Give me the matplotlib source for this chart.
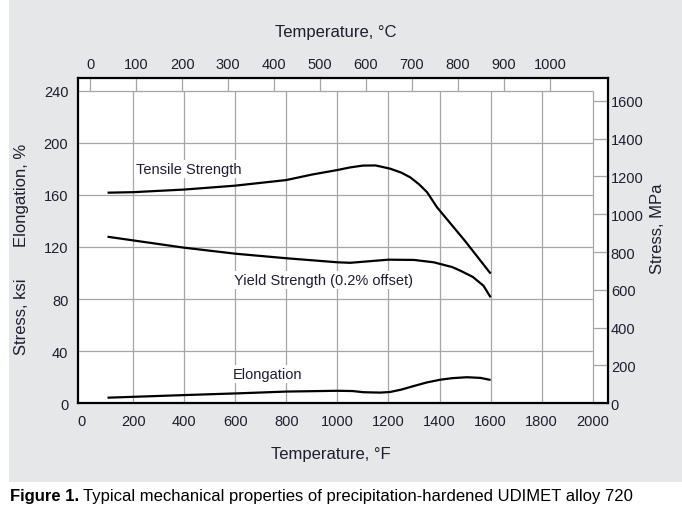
import matplotlib
matplotlib.use("Agg")
import matplotlib.pyplot as plt
from matplotlib.patches import Rectangle
import numpy as np

plt.rcParams['font.family'] = ['Liberation Sans', 'DejaVu Sans']

# ---- data (temperature in °F, stress in ksi, elongation in %) ----
tensile_F = [100, 200, 400, 600, 800, 900, 1000, 1050, 1100, 1150, 1207, 1250, 1285, 1320, 1351, 1390, 1500, 1600]
tensile_ksi = [161.6, 162, 164, 167, 171.3, 175.5, 179, 181, 182.4, 182.5, 180, 177, 173.4, 168, 162, 150.4, 124.5, 99.5]

yield_F = [100, 200, 400, 600, 800, 1000, 1050, 1100, 1200, 1300, 1377, 1450, 1481, 1530, 1572, 1600]
yield_ksi = [127.8, 125, 119.4, 114.8, 111.3, 108.2, 107.8, 108.6, 110.2, 110, 108.2, 104.5, 101.8, 97, 90.2, 81.3]

elong_F = [100, 400, 620, 800, 1000, 1060, 1102, 1168, 1207, 1250, 1300, 1350, 1403, 1450, 1507, 1560, 1600]
elong_pct = [4.3, 6.3, 7.7, 9.0, 9.6, 9.4, 8.5, 8.2, 8.7, 10.5, 13.3, 16, 18.1, 19.3, 20, 19.5, 17.9]

x_ticks_F = list(range(0, 2001, 200))
y_ticks_left = list(range(0, 241, 40))
x_ticks_C = list(range(0, 1001, 100))
y_ticks_MPa = list(range(0, 1601, 200))

TXT = '#1e1e30'
GRID = '#a9a5a3'

W, H = 682, 510
fig = plt.figure(figsize=(W / 100, H / 100), dpi=100)
fig.patch.set_facecolor('white')
fig.patches.append(Rectangle((9 / W, (H - 483) / H), 1 - 9 / W, 483 / H,
                             transform=fig.transFigure, facecolor='#e6e7e8',
                             edgecolor='none', zorder=-10))

L, R, T, B = 78, 608, 79, 404.3
ax = fig.add_axes([L / W, (H - B) / H, (R - L) / W, (B - T) / H])
ax.set_facecolor('white')
px_per_F = 0.2554
x0 = 82
ax.set_xlim((L - x0) / px_per_F, (R - x0) / px_per_F)
ax.set_ylim(0, 249.6)

# grid (bounded like the original)
ax.vlines(x_ticks_F[1:], 0, 240, colors=GRID, linewidth=0.9, zorder=1)
ax.hlines(y_ticks_left[1:], ax.get_xlim()[0], 2000, colors=GRID, linewidth=0.9, zorder=1)

# curves
ax.plot(tensile_F, tensile_ksi, color='black', lw=1.6, zorder=3, solid_capstyle='butt')
ax.plot(yield_F, yield_ksi, color='black', lw=1.6, zorder=3, solid_capstyle='butt')
ax.plot(elong_F, elong_pct, color='black', lw=1.6, zorder=3, solid_capstyle='butt')

bb = dict(facecolor='white', edgecolor='none', pad=1.5)
ax.text(211, 179.8, 'Tensile Strength', fontsize=10.5, color=TXT, va='center', ha='left', bbox=bb, zorder=2)
ax.text(595, 94.6, 'Yield Strength (0.2% offset)', fontsize=10.5, color=TXT, va='center', ha='left', bbox=bb, zorder=2)
ax.text(591, 22.5, 'Elongation', fontsize=10.5, color=TXT, va='center', ha='left', bbox=bb, zorder=2)

for s in ax.spines.values():
    s.set_linewidth(1.6)
    s.set_color('black')

ax.set_xticks(x_ticks_F)
ax.set_yticks(y_ticks_left)
ax.tick_params(axis='x', length=0, pad=8, labelsize=10.5, labelcolor=TXT)
ax.tick_params(axis='y', length=0, pad=7, labelsize=10.5, labelcolor=TXT)

# top axis: Celsius
secx = ax.secondary_xaxis('top', functions=(lambda f: (f - 32) * 5 / 9, lambda c: c * 9 / 5 + 32))
secx.set_xticks(x_ticks_C)
secx.tick_params(direction='in', length=9.4, width=0.9, color=GRID, pad=5, labelsize=10.5, labelcolor=TXT)
secx.spines['top'].set_visible(False)

# right axis: MPa
secy = ax.secondary_yaxis('right', functions=(lambda k: k * 6.895, lambda m: m / 6.895))
secy.set_yticks(y_ticks_MPa)
secy.tick_params(direction='in', length=10.8, width=0.9, color=GRID, pad=2, labelsize=10.5, labelcolor=TXT)
secy.spines['right'].set_visible(False)

# axis titles
fs = 12
fig.text(331 / W, 1 - 455 / H, 'Temperature, °F', ha='center', va='center', fontsize=fs, color=TXT)
fig.text(336 / W, 1 - 33 / H, 'Temperature, °C', ha='center', va='center', fontsize=fs, color=TXT)
fig.text(22 / W, 1 - 195 / H, 'Elongation, %', ha='center', va='center', rotation=90, fontsize=fs, color=TXT)
fig.text(22 / W, 1 - 317 / H, 'Stress, ksi', ha='center', va='center', rotation=90, fontsize=fs, color=TXT)
fig.text(657 / W, 1 - 229 / H, 'Stress, MPa', ha='center', va='center', rotation=90, fontsize=fs, color=TXT)

# caption
t1 = fig.text(10 / W, 1 - 497 / H, 'Figure 1.', ha='left', va='center', fontsize=12,
              fontweight='bold', color='black')
fig.canvas.draw()
ext = t1.get_window_extent(renderer=fig.canvas.get_renderer())
fig.text((ext.x1 + 4) / W, 1 - 497 / H,
         'Typical mechanical properties of precipitation-hardened UDIMET alloy 720',
         ha='left', va='center', fontsize=12, color='black')

fig.savefig('out.png', dpi=100)
